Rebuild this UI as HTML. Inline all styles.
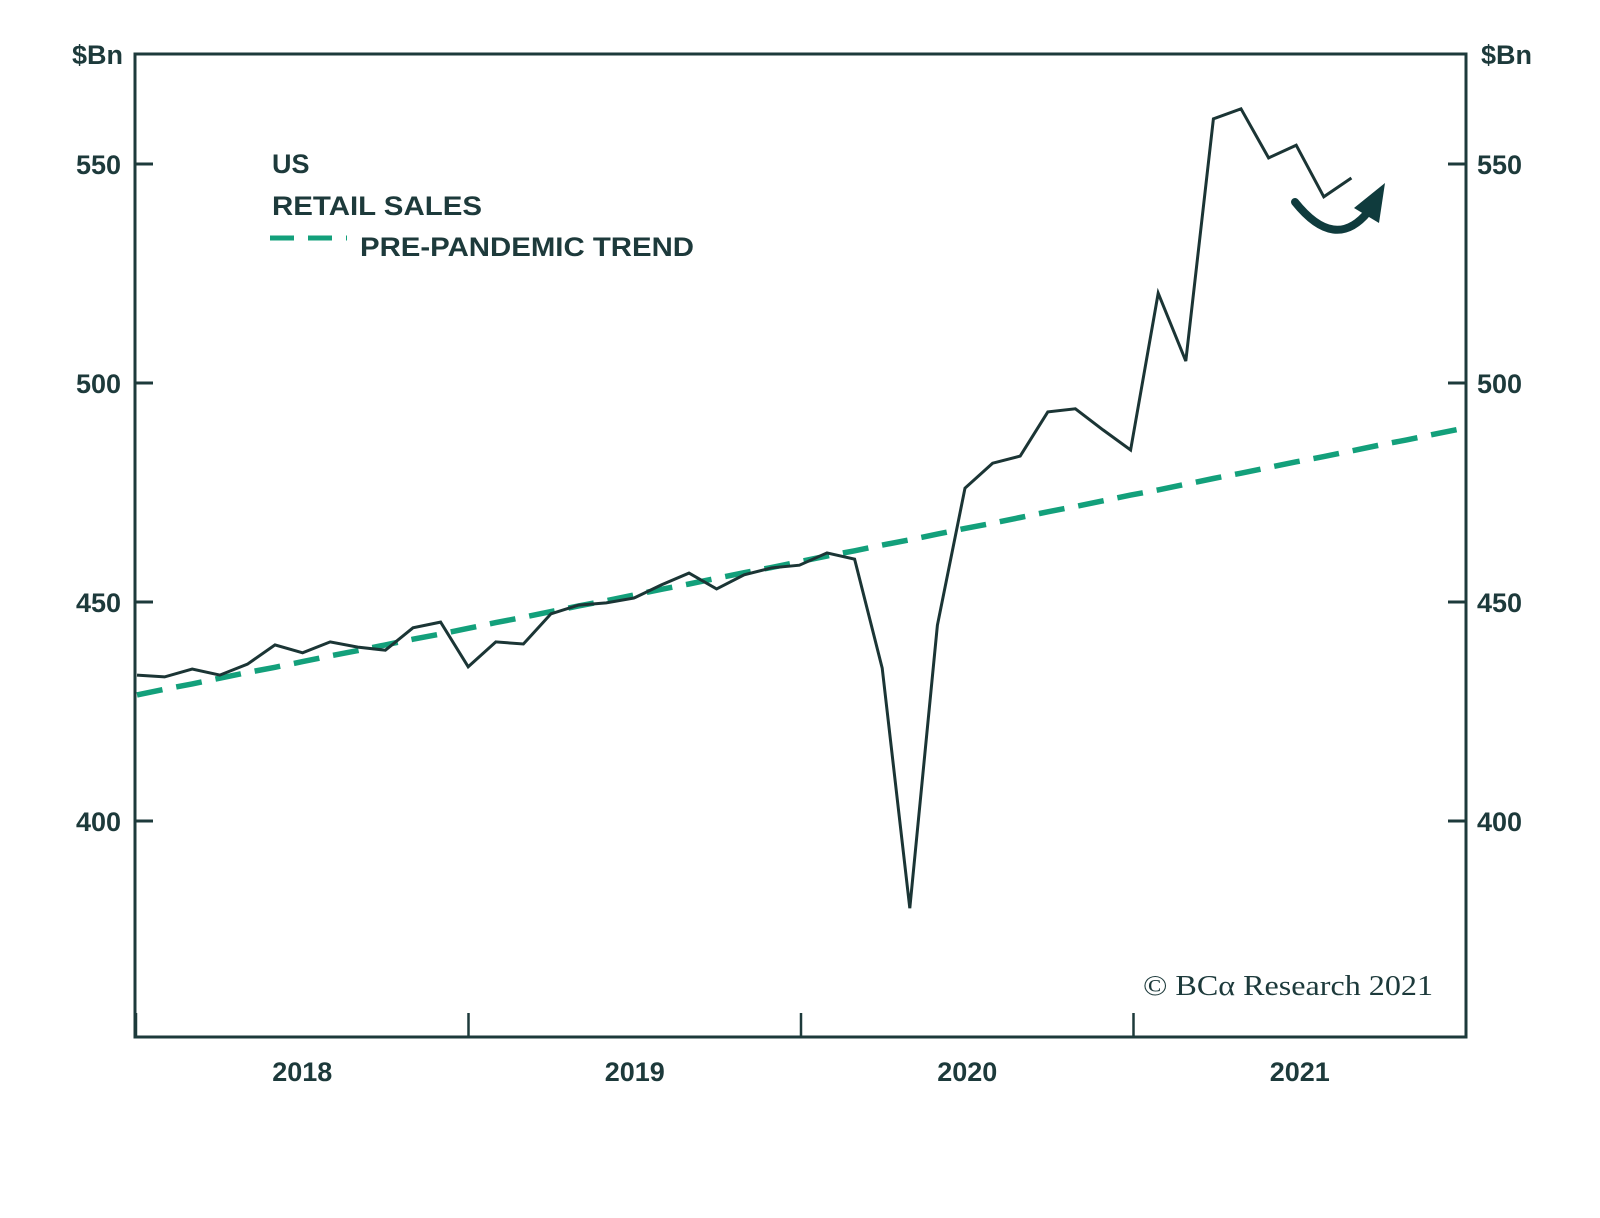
<!DOCTYPE html>
<html><head><meta charset="utf-8"><style>
html,body{margin:0;padding:0;background:#fff;}
svg{display:block;}
text{font-family:"Liberation Sans",Arial,sans-serif;font-weight:bold;fill:#1d3a3b;}
</style></head><body>
<svg id="chart" width="1600" height="1218" viewBox="0 0 1600 1218" xmlns="http://www.w3.org/2000/svg">
<defs><clipPath id="plotclip"><rect x="135" y="54" width="1331" height="983"/></clipPath></defs>
<g id="grid"></g>
<g id="series" clip-path="url(#plotclip)"></g>
<rect x="135" y="54" width="1331" height="983" fill="none" stroke="#1d3a3b" stroke-width="3"/>
<g id="axes"></g>
<text x="123" y="64" font-size="27" text-anchor="end">$Bn</text>
<text x="1481" y="64" font-size="27">$Bn</text>
<g>
<text x="272" y="173" font-size="27">US</text>
<text x="272" y="215" font-size="27" textLength="210" lengthAdjust="spacingAndGlyphs">RETAIL SALES</text>
<line x1="270" y1="238" x2="347" y2="238" stroke="#13a07b" stroke-width="5" stroke-dasharray="24,14"/>
<text x="360" y="256" font-size="27" textLength="334" lengthAdjust="spacingAndGlyphs">PRE-PANDEMIC TREND</text>
</g>
<g>
<path d="M1295,202 Q1335,252 1368,212" fill="none" stroke="#0f3b3d" stroke-width="8" stroke-linecap="round"/>
<polygon points="1385,183 1354,208 1379,223" fill="#0f3b3d"/>
</g>
<text x="1143" y="995" font-size="28" style="font-family:'Liberation Serif',serif;font-weight:normal" textLength="290" lengthAdjust="spacingAndGlyphs">© BCα Research 2021</text>
</svg>
<script>
const retailSales = [433.3,432.9,434.7,433.3,435.8,440.2,438.4,440.9,439.7,439.0,444.1,445.4,435.2,440.9,440.4,447.3,449.3,449.8,450.9,453.9,456.6,453.0,456.2,457.8,458.4,461.2,459.8,434.9,380.1,444.7,476.0,481.7,483.3,493.4,494.1,489.3,484.7,520.5,505.0,560.3,562.6,551.4,554.3,542.5,546.8];
const trendValues = [428.8,430.1,431.3,432.6,433.9,435.1,436.4,437.7,438.9,440.2,441.5,442.7,444.0,445.3,446.5,447.8,449.1,450.3,451.6,452.9,454.1,455.4,456.7,457.9,459.2,460.5,461.7,463.0,464.2,465.5,466.8,468.0,469.3,470.6,471.8,473.1,474.4,475.6,476.9,478.2,479.4,480.7,482.0,483.2,484.5,485.8,487.0,488.3,489.6];
const yTicks = [400,450,500,550];
const yearLabels = ["2018","2019","2020","2021"];
const yearTicks = [2018,2019,2020,2021];

const NS="http://www.w3.org/2000/svg";
const X0=137, STEP=27.6; // monthly point spacing
function xIdx(i){return X0+i*STEP;}
function yScale(v){return 164+(550-v)*(821-164)/150;}
function xYear(y){return 136+(y-2018)*332.5;}

const axes=document.getElementById('axes');
const series=document.getElementById('series');
function mk(tag,attrs,parent){const e=document.createElementNS(NS,tag);for(const k in attrs)e.setAttribute(k,attrs[k]);parent.appendChild(e);return e;}

yTicks.forEach(v=>{
  const y=yScale(v);
  const t1=mk('line',{x1:135,y1:y,x2:153,y2:y,stroke:'#1d3a3b','stroke-width':3},axes);
  
  
  const t2=mk('line',{x1:1448,y1:y,x2:1466,y2:y,stroke:'#1d3a3b','stroke-width':3},axes);
  
  
  const l1=mk('text',{x:121,y:y+10,'font-size':27,'text-anchor':'end'},axes);
  l1.textContent=v;
  
  
  const l2=mk('text',{x:1477,y:y+10,'font-size':27},axes);
  l2.textContent=v;
  
  
});
yearTicks.forEach((yr,k)=>{
  const x=xYear(yr);
  const t=mk('line',{x1:x,y1:1013,x2:x,y2:1037,stroke:'#1d3a3b','stroke-width':2.5},axes);
  
  
  const l=mk('text',{x:xYear(yr+0.5),y:1081,'font-size':27,'text-anchor':'middle'},axes);
  l.textContent=yearLabels[k];
  
  
});

const trendPts=trendValues.map((v,i)=>xIdx(i).toFixed(1)+','+yScale(v).toFixed(1)).join(' ');
const tr=mk('polyline',{points:trendPts,fill:'none',stroke:'#13a07b','stroke-width':5.5,'stroke-dasharray':'26,14'},series);



const salesPts=retailSales.map((v,i)=>xIdx(i).toFixed(1)+','+yScale(v).toFixed(1)).join(' ');
const sl=mk('polyline',{points:salesPts,fill:'none',stroke:'#1b3535','stroke-width':3,'stroke-linejoin':'miter'},series);


</script>
</body></html>
